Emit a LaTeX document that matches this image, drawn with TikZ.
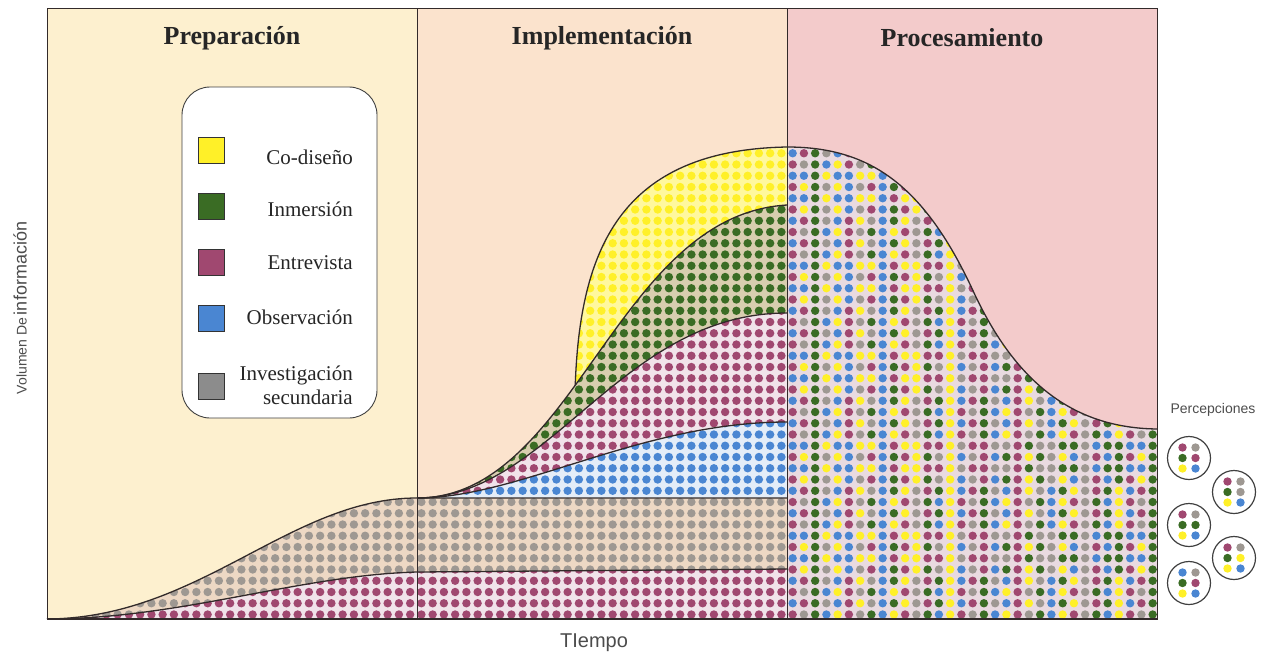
\documentclass[tikz,border=0pt]{standalone}
\usepackage{fontspec}
\setmainfont{Liberation Serif}
\setsansfont{Liberation Sans}
\usetikzlibrary{positioning}

\definecolor{fondoPrep}{RGB}{253,240,207}
\definecolor{fondoImpl}{RGB}{251,227,205}
\definecolor{fondoProc}{RGB}{243,203,203}
\definecolor{codis}{RGB}{255,240,40}
\definecolor{inmer}{RGB}{58,108,36}
\definecolor{entre}{RGB}{160,72,112}
\definecolor{obser}{RGB}{74,134,210}
\definecolor{secun}{RGB}{158,152,146}
\definecolor{linea}{RGB}{50,42,42}

% rejilla de puntos: color, i0, i1, j0, j1
\newcommand{\puntos}[5]{%
  \foreach \i in {#2,...,#3}
    \foreach \j in {#4,...,#5}
      \fill[#1] ({50.15+11.25*\i},{614.5-11.25*\j}) circle (4.2);}

\begin{document}
\begin{tikzpicture}[x=1pt, y=-1pt,
    curva/.style={draw=linea, line width=1.3pt},
    marco/.style={draw=linea, line width=0.9pt},
    titulo/.style={font=\bfseries\fontsize{26}{30}\selectfont, text=black!85},
    etiq/.style={font=\fontsize{21}{24}\selectfont, align=right, anchor=east, inner sep=0pt, text=black!85},
    muestra/.style={draw=black!80, line width=0.8pt, minimum size=26pt, inner sep=0pt},
    ejes/.style={font=\sffamily, text=black!70, inner sep=0pt},
    percep/.style={circle, draw=black!75, line width=1.2pt, minimum size=43pt, inner sep=0pt}
  ]
  \useasboundingbox (0,0) rectangle (1267,656);

  % fondos de las fases
  \fill[fondoPrep] (47,8) rectangle (417,619);
  \fill[fondoImpl] (417,8) rectangle (787,619);
  \fill[fondoProc] (787,8) rectangle (1157,619);

  % capas de informacion
  \path (417,498) .. controls (575,498) and (615,215) .. (787,205) coordinate[pos=0.43] (ys);
  \coordinate (base) at (0,498);

  \begin{scope}
    \clip (ys) .. controls (580,250) and (620,150) .. (787,147) -- (787,498) -- (ys |- base) -- cycle;
    \fill[codis!45!white] (560,140) rectangle (787,500);
    \puntos{codis}{45}{65}{19}{41}
  \end{scope}
  \begin{scope}
    \clip (417,498) .. controls (575,498) and (615,215) .. (787,205) -- (787,498) -- cycle;
    \fill[inmer!18!fondoImpl] (417,200) rectangle (787,500);
    \puntos{inmer}{33}{65}{10}{37}
  \end{scope}
  \begin{scope}
    \clip (417,498) .. controls (550,498) and (620,313) .. (787,313) -- (787,498) -- cycle;
    \fill[entre!15!white] (417,300) rectangle (787,500);
    \puntos{entre}{33}{65}{10}{27}
  \end{scope}
  \begin{scope}
    \clip (417,498) .. controls (520,498) and (640,422) .. (787,422) -- (787,498) -- cycle;
    \fill[obser!15!white] (417,410) rectangle (787,500);
    \puntos{obser}{33}{65}{10}{17}
  \end{scope}
  \begin{scope}
    \clip (47,619) .. controls (200,618) and (290,498) .. (417,498) -- (787,498) -- (787,619) -- cycle;
    \fill[secun!15!fondoImpl] (47,490) rectangle (787,619);
    \puntos{secun}{0}{65}{0}{10}
  \end{scope}
  \begin{scope}
    \clip (47,619) .. controls (180,619) and (300,575) .. (417,572) -- (787,569) -- (787,619) -- cycle;
    \fill[entre!15!white] (47,560) rectangle (787,619);
    \puntos{entre}{0}{65}{0}{4}
  \end{scope}

  % procesamiento: mezcla
  \begin{scope}
    \clip (787,147) .. controls (870,147) and (925,185) .. (975,295)
      .. controls (1020,390) and (1080,428) .. (1157,429) -- (1157,619) -- (787,619) -- cycle;
    \fill[fondoProc!85!obser!60!white] (787,140) rectangle (1157,619);
    \foreach \i in {66,...,98}
      \foreach \j in {0,...,41} {
        \pgfmathtruncatemacro\k{mod(2*\i+mod(\j,2)*(2*mod(\i,3)+1)+mod(int(\j/4),2)*mod(\i,2),5)}
        \ifcase\k \def\col{codis}\or \def\col{inmer}\or \def\col{entre}\or \def\col{obser}\or \def\col{secun}\fi
        \fill[\col] ({50.15+11.25*\i},{614.5-11.25*\j}) circle (4.2);
      }
  \end{scope}

  % curvas
  \draw[curva] (47,619) .. controls (200,618) and (290,498) .. (417,498) -- (787,498);
  \draw[curva] (47,619) .. controls (180,619) and (300,575) .. (417,572) -- (787,569);
  \draw[curva] (417,498) .. controls (520,498) and (640,422) .. (787,422);
  \draw[curva] (417,498) .. controls (550,498) and (620,313) .. (787,313);
  \draw[curva] (417,498) .. controls (575,498) and (615,215) .. (787,205);
  \draw[curva] (ys) .. controls (580,250) and (620,150) .. (787,147)
    .. controls (870,147) and (925,185) .. (975,295)
    .. controls (1020,390) and (1080,428) .. (1157,429);

  % marco
  \draw[marco] (47,8) rectangle (1157,619);
  \draw[marco] (417,8) -- (417,619);
  \draw[marco] (787,8) -- (787,619);
  \draw[linea, line width=1.6pt] (47,619) -- (1157,619);

  % titulos
  \node[titulo] (prep) at (232,38) {Preparación};
  \node[titulo] (impl) at (602,38) {Implementación};
  \node[titulo] (proc) at (962,38) {Procesamiento};

  % leyenda
  \node[draw=black!75, line width=0.9pt, fill=white, rounded corners=28pt,
    minimum width=195pt, minimum height=331pt] (caja) at (279.5,252.5) {};
  \node[muestra, fill=codis] (m1) at (211.5,150.5) {};
  \node[muestra, fill=inmer] (m2) at (211.5,206) {};
  \node[muestra, fill=entre] (m3) at (211.5,262.5) {};
  \node[muestra, fill=obser] (m4) at (211.5,318) {};
  \node[muestra, fill=black!45] (m5) at (211.5,386.5) {};
  \node[etiq] (e1) at (353,157) {Co-diseño};
  \node[etiq] (e2) at (353,209) {Inmersión};
  \node[etiq] (e3) at (353,263) {Entrevista};
  \node[etiq] (e4) at (353,317) {Observación};
  \node[etiq] (e5) at (353,385) {Investigación\\secundaria};

  % ejes
  \node[ejes, rotate=90] (vol) at (20,308)
    {{\fontsize{14}{16}\selectfont Volumen De} {\fontsize{18}{20}\selectfont información}};
  \node[ejes, font=\sffamily\fontsize{20}{24}\selectfont] (tiempo) at (594,643) {TIempo};
  \node[ejes, font=\sffamily\fontsize{14}{16}\selectfont] (perc) at (1213,410) {Percepciones};

  % percepciones
  \foreach \n/\px/\py/\a/\b/\c/\d/\e/\f in {
      1/1189/458/entre/secun/inmer/entre/codis/obser,
      2/1234/492/entre/secun/inmer/secun/codis/obser,
      3/1189/525/entre/secun/inmer/inmer/codis/obser,
      4/1234/558/entre/secun/inmer/codis/codis/obser,
      5/1189/583/obser/secun/inmer/entre/codis/obser} {
    \node[percep, fill=white] (p\n) at (\px,\py) {};
    \fill[\a] ([shift={(-6.5,-10.5)}]p\n.center) circle (4.2);
    \fill[\b] ([shift={(6.5,-10.5)}]p\n.center) circle (4.2);
    \fill[\c] ([shift={(-6.5,0)}]p\n.center) circle (4.2);
    \fill[\d] ([shift={(6.5,0)}]p\n.center) circle (4.2);
    \fill[\e] ([shift={(-6.5,10.5)}]p\n.center) circle (4.2);
    \fill[\f] ([shift={(6.5,10.5)}]p\n.center) circle (4.2);
  }
\end{tikzpicture}
\end{document}
